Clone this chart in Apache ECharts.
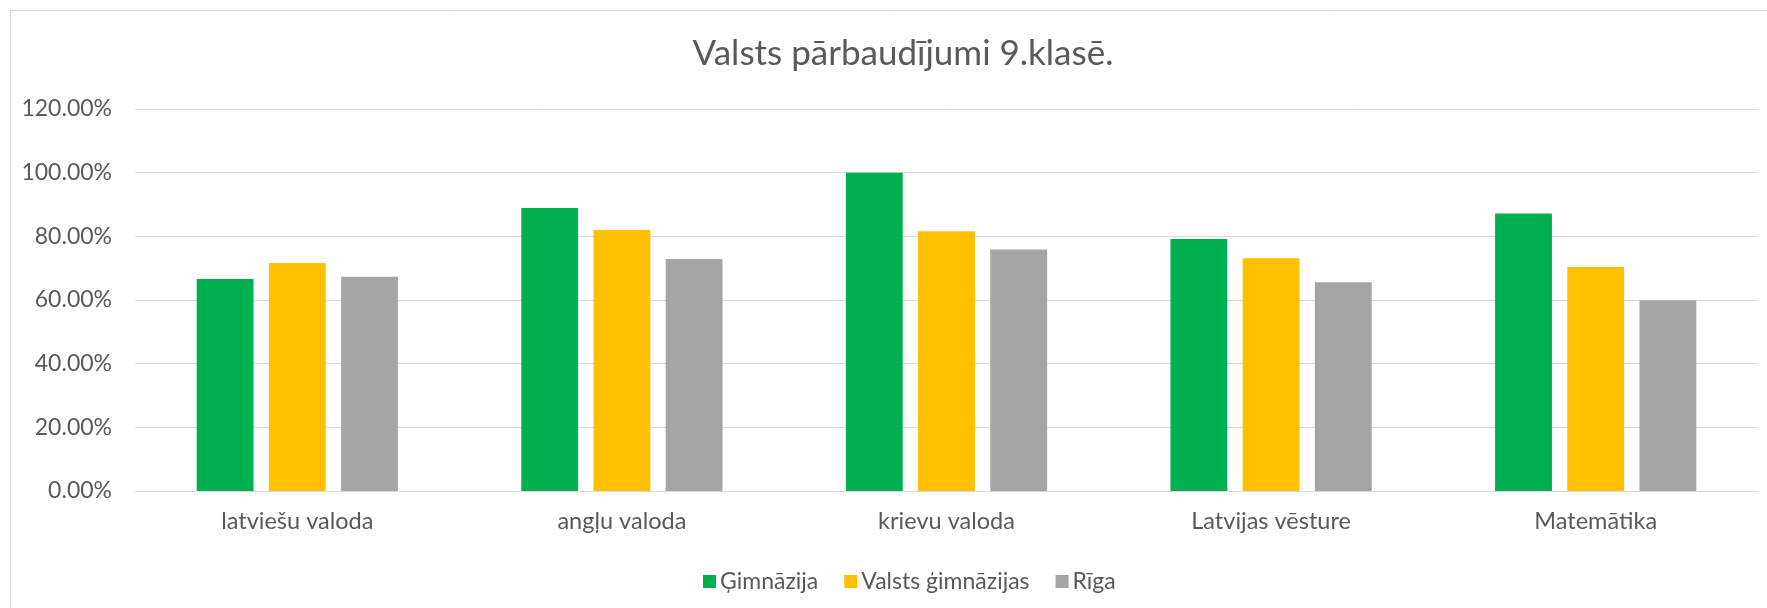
<!DOCTYPE html>
<html>
<head>
<meta charset="utf-8">
<script src="https://cdn.jsdelivr.net/npm/echarts@6/dist/echarts.min.js"></script>
<style>
html, body { margin: 0; padding: 0; background: #fff; }
#chart { width: 1767px; height: 608px; }
</style>
</head>
<body>
<div id="chart"></div>
<script>
// dati no attēla
var categories = ["latviešu valoda", "angļu valoda", "krievu valoda", "Latvijas vēsture", "Matemātika"];
var seriesNames = ["Ģimnāzija", "Valsts ģimnāzijas", "Rīga"];
var gimnazija = [66.6, 88.9, 100.0, 79.2, 87.2];
var valstsGimnazijas = [71.6, 82.0, 81.6, 73.1, 70.4];
var riga = [67.3, 72.9, 75.9, 65.6, 59.9];
var yTicks = [0, 20, 40, 60, 80, 100, 120];

var colors = ["#00B050", "#FFC000", "#A5A5A5"];
var textColor = "#595959";
var fontName = "Lato";

var myChart = echarts.init(document.getElementById("chart"));

function makeSeries(name, data, color){
	return {
		name: name,
		type: 'bar',
		data: data,
		barGap: '27%',
		barCategoryGap: '38%',
		itemStyle: { color: color },
		emphasis: { disabled: true }
	};
}

var option = {
	backgroundColor: '#fff',
	animation: false,
	textStyle: { fontFamily: fontName },
	graphic: [{
		type: 'rect',
		shape: { x: 10.5, y: 10.5, width: 1800, height: 700 },
		style: { fill: 'none', stroke: '#d9d9d9', lineWidth: 1 },
		silent: true
	}],
	title: {
		text: "Valsts pārbaudījumi 9.klasē.",
		left: 898,
		textAlign: 'center',
		top: 31,
		textStyle: { color: textColor, fontSize: 35, fontWeight: 'normal', fontFamily: fontName }
	},
	legend: {
		data: seriesNames,
		left: 698,
		top: 565,
		itemWidth: 13,
		itemHeight: 13,
		itemGap: 26,
		icon: 'rect',
		textStyle: { color: textColor, fontSize: 23, fontFamily: fontName, padding: [0, 0, 0, -1] }
	},
	grid: { left: 135, right: 9, top: 109, bottom: 117, containLabel: false },
	xAxis: {
		type: 'category',
		data: categories,
		axisLine: { lineStyle: { color: '#d9d9d9', width: 1 } },
		axisTick: { show: false },
		axisLabel: { color: textColor, fontSize: 23.5, margin: 18, fontFamily: fontName }
	},
	yAxis: {
		type: 'value',
		min: yTicks[0],
		max: yTicks[yTicks.length - 1],
		interval: 20,
		axisLine: { show: false },
		axisTick: { show: false },
		splitLine: { lineStyle: { color: '#d9d9d9', width: 1 } },
		axisLabel: {
			color: textColor, fontSize: 23, margin: 23, fontFamily: fontName,
			formatter: function(v){ return v.toFixed(2) + '%'; }
		}
	},
	series: [
		makeSeries(seriesNames[0], gimnazija, colors[0]),
		makeSeries(seriesNames[1], valstsGimnazijas, colors[1]),
		makeSeries(seriesNames[2], riga, colors[2])
	]
};

myChart.setOption(option);
</script>
</body>
</html>
